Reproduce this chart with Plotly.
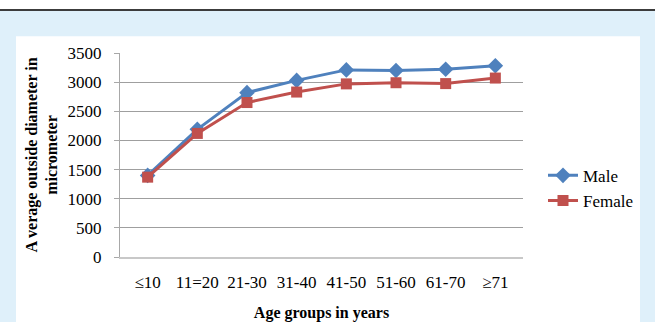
import plotly.graph_objects as go

# Average outside diameter (micrometer) by age group
age_groups = ["\u226410", "11=20", "21-30", "31-40", "41-50", "51-60", "61-70", "\u226571"]
male = [1400, 2190, 2820, 3030, 3210, 3200, 3220, 3280]
female = [1370, 2120, 2650, 2830, 2970, 2990, 2975, 3070]
y_ticks = [0, 500, 1000, 1500, 2000, 2500, 3000, 3500]

W, H = 655, 322
L, R, T, B = 120, 523, 52.7, 256.7  # plot area in pixels


def px_x(p):
    return (p - L) / (R - L)


def px_y(p):
    return (B - p) / (B - T)


serif = "Liberation Serif, Times New Roman, serif"

fig = go.Figure()
fig.add_trace(go.Scatter(
    x=age_groups, y=male, name="Male", mode="lines+markers",
    line=dict(color="#4f81bd", width=3),
    marker=dict(symbol="diamond", size=12, color="#4f81bd"),
))
fig.add_trace(go.Scatter(
    x=age_groups, y=female, name="Female", mode="lines+markers",
    line=dict(color="#c0504d", width=3),
    marker=dict(symbol="square", size=11, color="#c0504d"),
))

shapes = [
    # light blue page band
    dict(type="rect", xref="paper", yref="paper", layer="below",
         x0=px_x(0), x1=px_x(W), y0=px_y(H + 5), y1=px_y(10.5),
         fillcolor="#dff0fa", line=dict(width=0)),
    # dark rule at the top
    dict(type="line", xref="paper", yref="paper", layer="below",
         x0=px_x(0), x1=px_x(W), y0=px_y(9.8), y1=px_y(9.8),
         line=dict(color="#3c3c3c", width=2)),
    # white chart panel
    dict(type="rect", xref="paper", yref="paper", layer="below",
         x0=px_x(16), x1=px_x(640), y0=px_y(H + 10), y1=px_y(36),
         fillcolor="white", line=dict(width=0)),
]

fig.update_layout(
    width=W, height=H,
    margin=dict(l=L, r=W - R, t=T, b=H - B, pad=0, autoexpand=False),
    paper_bgcolor="white",
    plot_bgcolor="rgba(0,0,0,0)",
    shapes=shapes,
    font=dict(family=serif, size=17, color="black"),
    showlegend=True,
    legend=dict(
        x=px_x(543), y=px_y(188), xanchor="left", yanchor="middle",
        bgcolor="rgba(0,0,0,0)", font=dict(family=serif, size=17),
        tracegroupgap=0, itemwidth=30,
    ),
    xaxis=dict(
        type="category", showgrid=False, ticks="", automargin=False,
        showline=True, linecolor="#c8c8c8", linewidth=1.5,
        tickfont=dict(family=serif, size=17), ticklabelstandoff=9,
        title=dict(text="<b>Age groups in years</b>", standoff=20,
                   font=dict(family=serif, size=16)),
    ),
    yaxis=dict(
        range=[0, 3500], tickvals=y_ticks, ticks="outside", ticklen=5,
        automargin=False,
        tickcolor="#a8a8a8", showline=True, linecolor="#a8a8a8", linewidth=1,
        showgrid=True, gridcolor="#9f9f9f", gridwidth=1, zeroline=False,
        tickfont=dict(family=serif, size=17), ticklabelstandoff=9,
        title=dict(text="<b>A verage outside diameter in<br>micrometer</b>",
                   standoff=5, font=dict(family=serif, size=16)),
    ),
)

fig.write_html("out.html")
